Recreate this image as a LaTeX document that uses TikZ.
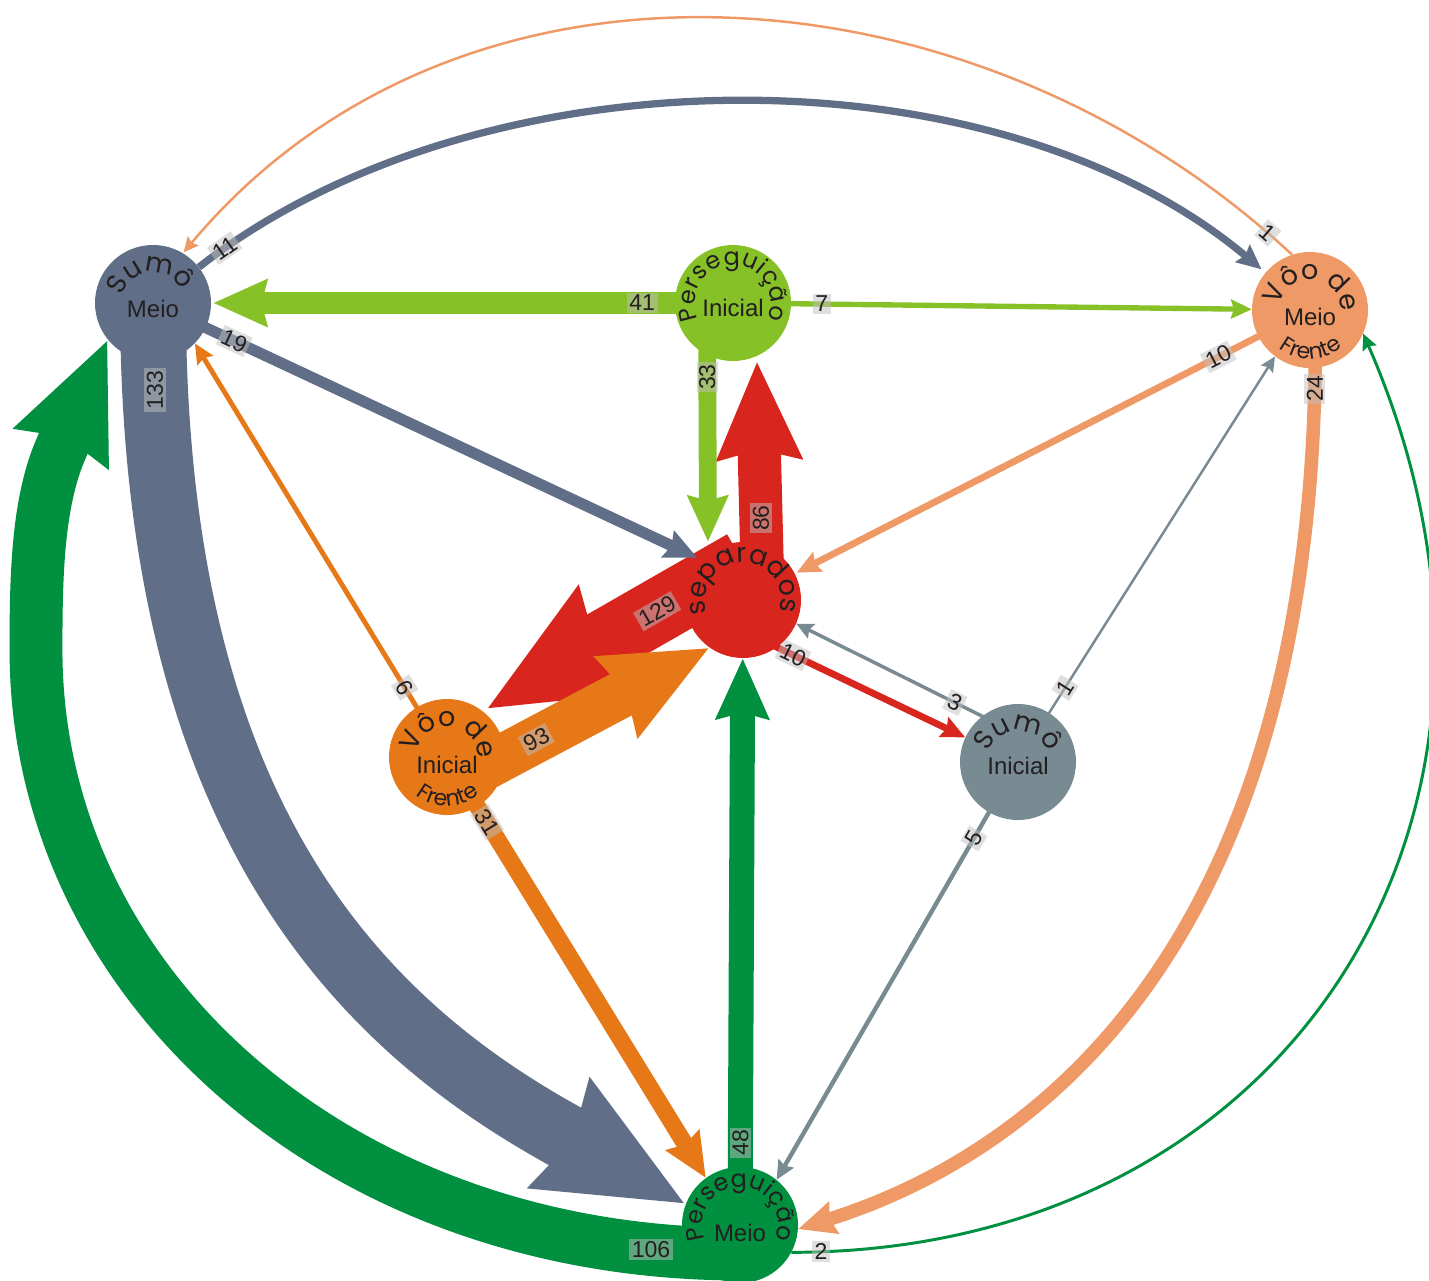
\documentclass[tikz,border=0pt]{standalone}
\usepackage{fontspec}
\setmainfont{Liberation Sans}
\newfontfamily\gothfamily{Poppins}
\usetikzlibrary{arrows.meta,decorations.text}
\definecolor{colslate}{RGB}{96,111,135}
\definecolor{collime}{RGB}{134,193,39}
\definecolor{colsalmon}{RGB}{238,153,102}
\definecolor{colred}{RGB}{216,38,30}
\definecolor{colorange}{RGB}{231,120,23}
\definecolor{colsteel}{RGB}{120,138,146}
\definecolor{colgreen}{RGB}{0,144,63}
\definecolor{ink}{RGB}{35,31,32}
\pgfdeclarelayer{background}
\pgfsetlayers{background,main}

\begin{document}
\begin{tikzpicture}[x=1pt,y=1pt,
  state/.style={circle,minimum size=116pt,inner sep=0pt},
  mid/.style={text=ink,font=\fontsize{24}{26}\selectfont},
  flow/.style={/utils/exec={\pgfmathsetlengthmacro\flowwidth{2pt+0.48pt*#1}},
    line width=\flowwidth,-{Stealth[length=10pt 2,width=10pt 1.65,inset=2pt 0.15]}},
  num/.style={fill=black!25,fill opacity=0.5,text opacity=1,inner sep=2.5pt,
    text=ink,font=\fontsize{23}{24}\selectfont}]
\newcommand{\arcword}[6]{%
  \path[decorate,decoration={text along path,text align={fit to path},text color=ink,
    text={|\gothfamily\fontsize{#5}{#5}\selectfont|#6}}]
    ([shift={(#3:#2)}]#1.center) arc[start angle=#3,end angle=#4,radius=#2];}
\newcommand{\arcbelow}[5]{%
  \path[decorate,decoration={text along path,text align=center,text color=ink,
    text={|\gothfamily\fontsize{22}{22}\selectfont|#5}}]
    ([shift={(#3:#2)}]#1.center) arc[start angle=#3,end angle=#4,radius=#2];}
\useasboundingbox (0,0) rectangle (1429,-1280);

\node[state,fill=colslate,label={[mid,yshift=-6pt]center:Meio}] (smeio) at (153,-303) {};
\node[state,fill=collime,label={[mid,yshift=-5pt]center:Inicial}] (pini) at (733,-303) {};
\node[state,fill=colsalmon,label={[mid,yshift=-7pt]center:Meio}] (vmeio) at (1310,-310) {};
\node[state,fill=colred] (sep) at (743,-600) {};
\node[state,fill=colorange,label={[mid,yshift=-8pt]center:Inicial}] (vini) at (447,-757) {};
\node[state,fill=colsteel,label={[mid,yshift=-4pt]center:Inicial}] (sini) at (1018,-762) {};
\node[state,fill=colgreen,label={[mid,yshift=-8pt]center:Meio}] (pmeio) at (740,-1225) {};
\coordinate (gleft) at (36,-650);
\coordinate (gbase) at ([shift={(-48,-112)}]smeio.-141);
\coordinate (sbase) at ([shift={(-130,73)}]pmeio.159);

\arcword{smeio}{31}{167}{25}{27}{Sumô}
\arcword{pini}{38}{205}{-25}{24}{Perseguição}
\arcword{vmeio}{31}{172}{10}{27}{Vôo de}
\arcbelow{vmeio}{49}{229}{313}{Frente}
\arcword{sep}{38}{201}{-11}{27}{separados}
\arcword{vini}{31}{172}{10}{27}{Vôo de}
\arcbelow{vini}{49}{229}{313}{Frente}
\arcword{sini}{31}{162}{22}{27}{Sumô}
\arcword{pmeio}{38}{202}{-22}{24}{Perseguição}

\begin{pgfonlayer}{background}
% long loops round the outside
\draw[flow=106,colgreen] ([yshift=-29pt]pmeio.center) .. controls +(-404,0) and +(0,-333) ..
  node[num,pos=0.075] {106} (gleft) .. controls +(0,67) and +(-23,-55) .. (gbase) -- (smeio.-141);
\draw[flow=133,colslate] (smeio.center) .. controls +(0,-500) and +(-209,118) ..
  node[num,pos=0.06,rotate=90] {133} (sbase) -- (pmeio.159);
\draw[flow=24,colsalmon] ([xshift=5pt]vmeio.center) .. controls +(10,-600) and +(266,84) .. (pmeio.-4)
  node[num,pos=0.045,rotate=90] {24};
\draw[flow=2,colgreen] (pmeio.-28) .. controls +(500,0) and +(208,-477) .. (vmeio.-24)
  node[num,pos=0.02] {2};
\draw[flow=11,colslate,shorten >=5pt] (smeio.38) .. controls +(280,219) and +(-272,228) .. (vmeio.140)
  node[num,pos=0.03,sloped] {11};
\draw[flow=1,colsalmon,shorten >=1pt] (vmeio.108) .. controls +(-317,295) and +(278,332) .. (smeio.59)
  node[num,pos=0.025,sloped] {1};
% straight flows
\draw[flow=129,colred,shorten >=4pt] ([yshift=38pt]sep.center) -- (vini.52) node[num,pos=0.33,sloped] {129};
\draw[flow=93,colorange] ([yshift=-30pt]vini.center) -- (sep.235) node[num,pos=0.34,sloped] {93};
\draw[flow=86,colred] ([xshift=20pt]sep.center) -- ([xshift=24pt]pini.south) node[num,pos=0.343,rotate=90] {86};
\draw[flow=41,collime,shorten >=2pt] (pini.center) -- (smeio) node[num,pos=0.174] {41};
\draw[flow=7,collime] (pini.center) -- (vmeio) node[num,pos=0.171] {7};
\draw[flow=33,collime] ([xshift=-26pt]pini.center) -- ([xshift=-35pt]sep.north) node[num,pos=0.31,rotate=90] {33};
\draw[flow=19,colslate,shorten >=4pt] (smeio.center) -- (sep.136) node[num,pos=0.148,sloped] {19};
\draw[flow=10,colsalmon,shorten >=2pt] (vmeio.center) -- (sep.27) node[num,pos=0.178,sloped] {10};
\draw[flow=10,colred] ([yshift=-31pt]sep.center) -- (sini.155) node[num,pos=0.225,sloped] {10};
\draw[flow=6,colorange] (vini.center) -- (smeio.-44) node[num,pos=0.168,sloped] {6};
\draw[flow=31,colorange] (vini.center) -- (pmeio.126) node[num,pos=0.155,sloped] {31};
\draw[flow=3,colsteel] ([yshift=28pt]sini.center) -- (sep.-24) node[num,pos=0.285,sloped] {3};
\draw[flow=1,colsteel] (sini.center) -- (vmeio.233) node[num,pos=0.183,sloped] {1};
\draw[flow=5,colsteel] (sini.center) -- (pmeio.51) node[num,pos=0.183,sloped] {5};
\draw[flow=48,colgreen] (pmeio.center) -- (sep) node[num,pos=0.145,rotate=90] {48};
\end{pgfonlayer}
\end{tikzpicture}
\end{document}
